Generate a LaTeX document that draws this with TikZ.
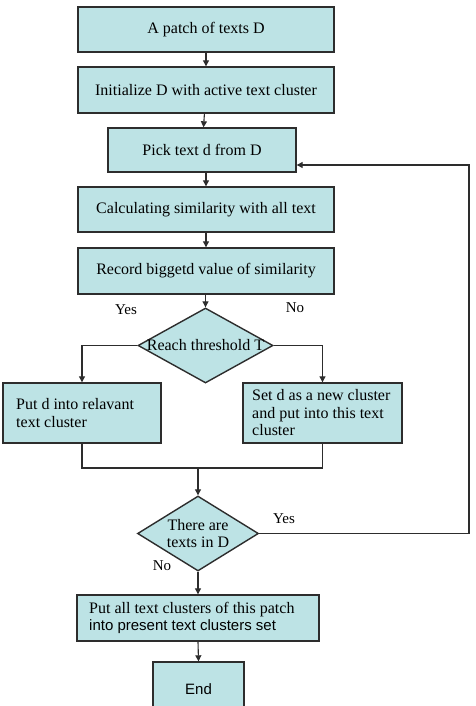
\documentclass[tikz,border=0pt]{standalone}
\usepackage{fontspec}
\setmainfont{Liberation Serif}
\setsansfont{Liberation Sans}
\usetikzlibrary{shapes.geometric,arrows.meta}
\definecolor{boxfill}{RGB}{189,227,229}
\definecolor{linec}{RGB}{45,45,45}
\begin{document}
\begin{tikzpicture}[x=1pt,y=-1pt,
  stepbox/.style={draw=linec,fill=boxfill,line width=1.4pt,inner sep=0pt,
    font=\fontsize{16}{17.5}\selectfont,text=black},
  dia/.style={draw=linec,fill=boxfill,line width=1.4pt,shape=diamond,inner sep=0pt},
  txt/.style={font=\fontsize{16}{17.5}\selectfont,inner sep=0pt,align=center},
  lbl/.style={font=\fontsize{15}{17}\selectfont,inner sep=0pt},
  conn/.style={draw=linec,line width=1.1pt},
  arr/.style={conn,-{Triangle[length=6pt,width=6pt]}}]
\useasboundingbox (0,0) rectangle (476,706);
\fill[white] (0,0) rectangle (476,706);
\node[stepbox,minimum width=256,minimum height=45] (b1) at (206,29.5) {A patch of texts D};
\node[stepbox,minimum width=256,minimum height=46] (b2) at (206,90) {Initialize D with active text cluster};
\node[stepbox,minimum width=188,minimum height=44] (b3) at (202,150) {Pick text d from D};
\node[stepbox,minimum width=256,minimum height=45] (b4) at (206,209.5) {Calculating similarity with all text};
\node[stepbox,minimum width=256,minimum height=46] (b5) at (206,271) {Record biggetd value of similarity};
\node[dia,minimum width=135,minimum height=75] (d1) at (205.5,345.5) {};
\node[txt] (d1t) at (d1.center) {Reach threshold T};
\node[stepbox,minimum width=158,minimum height=60] (b6) at (82,413) {};
\node[txt,align=left,anchor=west] (b6t) at (16,413) {Put d into relavant\\text cluster};
\node[stepbox,minimum width=159,minimum height=60] (b7) at (322.5,413) {};
\node[txt,align=left,anchor=west] (b7t) at (252,413) {Set d as a new cluster\\and put into this text\\cluster};
\coordinate (m) at (198,468);
\node[dia,minimum width=121,minimum height=75] (d2) at (198,533.5) {};
\node[txt] (d2t) at (d2.center) {There are\\texts in D};
\node[stepbox,minimum width=242,minimum height=46] (b8) at (198,618) {};
\node[txt,align=left,anchor=west] (b8t) at (89,618) {Put all text clusters of this patch\\\sffamily\fontsize{15}{17.5}\selectfont into present text clusters set};
\node[stepbox,minimum width=91,minimum height=54,font=\sffamily\fontsize{15}{17}\selectfont] (b9) at (198.5,689) {End};
\coordinate (lp) at (469,165);
% connectors
\draw[arr] (b1) -- (b2);
\draw[arr] (b2) -- (b3);
\draw[arr] (b3.south -| b4.north) -- (b4);
\draw[arr] (b4) -- (b5);
\draw[arr] (b5.south -| d1.north) -- (d1.north);
\draw[arr] (d1.west) -| (b6.north);
\draw[arr] (d1.east) -| (b7.north);
\draw[conn] (b6.south) |- (m) -| (b7.south);
\draw[arr] (m) -- (d2.north);
\draw[arr] (d2.south) -- (b8.north);
\draw[arr] (b8.south) -- (b9.north);
\draw[arr] (d2.east) -| (lp) -- (lp -| b3.east);
% labels
\node[lbl] (ly1) at (126,310) {Yes};
\node[lbl] (ln1) at (295,308) {No};
\node[lbl] (ly2) at (284,519) {Yes};
\node[lbl] (ln2) at (162,566) {No};
\end{tikzpicture}
\end{document}
